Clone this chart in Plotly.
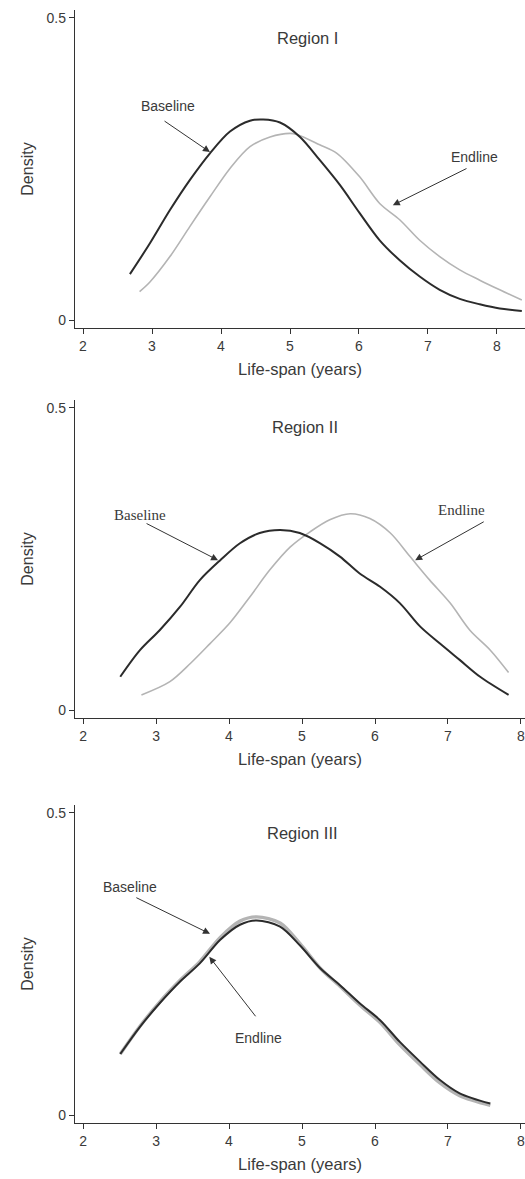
import plotly.graph_objects as go

# ---------------- data ----------------
region_titles = ["Region I", "Region II", "Region III"]
x_ticks = [2, 3, 4, 5, 6, 7, 8]

r1_base_x = [2.68, 2.97, 3.26, 3.55, 3.84, 4.13, 4.42, 4.61, 4.855, 5.145, 5.43, 5.72, 6.01, 6.30, 6.59, 6.88, 7.17, 7.46, 7.75, 8.04, 8.36]
r1_base_y = [0.076, 0.127, 0.182, 0.232, 0.276, 0.312, 0.330, 0.332, 0.327, 0.303, 0.265, 0.224, 0.177, 0.132, 0.099, 0.072, 0.050, 0.035, 0.026, 0.019, 0.015]
r1_end_x = [2.82, 2.97, 3.26, 3.55, 3.84, 4.13, 4.42, 4.71, 5.0, 5.10, 5.43, 5.68, 6.01, 6.30, 6.59, 6.88, 7.17, 7.46, 7.75, 8.04, 8.36]
r1_end_y = [0.047, 0.063, 0.105, 0.155, 0.204, 0.251, 0.287, 0.303, 0.309, 0.307, 0.290, 0.276, 0.237, 0.193, 0.166, 0.132, 0.105, 0.083, 0.066, 0.050, 0.033]

r2_base_x = [2.51, 2.78, 3.05, 3.33, 3.60, 3.88, 4.15, 4.42, 4.70, 4.97, 5.25, 5.52, 5.79, 6.07, 6.34, 6.62, 6.89, 7.16, 7.44, 7.83]
r2_base_y = [0.055, 0.099, 0.132, 0.171, 0.215, 0.248, 0.276, 0.293, 0.298, 0.293, 0.276, 0.254, 0.226, 0.204, 0.177, 0.138, 0.110, 0.083, 0.055, 0.025]
r2_end_x = [2.80, 3.19, 3.47, 3.74, 4.01, 4.29, 4.56, 4.84, 5.11, 5.38, 5.66, 5.93, 6.21, 6.48, 6.75, 7.03, 7.30, 7.58, 7.83]
r2_end_y = [0.025, 0.047, 0.077, 0.110, 0.144, 0.188, 0.232, 0.270, 0.295, 0.315, 0.325, 0.317, 0.293, 0.254, 0.215, 0.177, 0.132, 0.099, 0.062]

r3_x = [2.51, 2.78, 3.05, 3.33, 3.60, 3.88, 4.15, 4.38, 4.70, 4.97, 5.25, 5.52, 5.79, 6.07, 6.34, 6.62, 6.89, 7.16, 7.58]
r3_base_y = [0.101, 0.146, 0.185, 0.221, 0.251, 0.290, 0.315, 0.322, 0.312, 0.281, 0.243, 0.215, 0.185, 0.157, 0.121, 0.088, 0.058, 0.036, 0.019]
r3_end_y = [0.101, 0.147, 0.187, 0.223, 0.254, 0.294, 0.321, 0.328, 0.318, 0.284, 0.243, 0.213, 0.182, 0.153, 0.116, 0.083, 0.053, 0.032, 0.016]

DARK = "#2b2b2b"
LIGHT = "#b4b4b4"
TXT = "#3a3a3a"
H = 1179
SANS = "Liberation Sans, Arial"

fig = go.Figure()

panels = [
    dict(base=(r1_base_x, r1_base_y), end=(r1_end_x, r1_end_y), top=10, bottom=328, xr=[1.884, 8.406], ext=False),
    dict(base=(r2_base_x, r2_base_y), end=(r2_end_x, r2_end_y), top=400, bottom=718, xr=[1.890, 8.055], ext=False),
    dict(base=(r3_x, r3_base_y), end=(r3_x, r3_end_y), top=805, bottom=1123, xr=[1.890, 8.055], ext=True),
]

for i, p in enumerate(panels):
    n = i + 1
    xa = "x" if n == 1 else f"x{n}"
    ya = "y" if n == 1 else f"y{n}"
    ew = 3.4 if p["ext"] else 1.6
    fig.add_trace(go.Scatter(x=p["end"][0], y=p["end"][1], mode="lines",
                             line=dict(color=LIGHT, width=ew, shape="spline", smoothing=0.9),
                             xaxis=xa, yaxis=ya, showlegend=False))
    fig.add_trace(go.Scatter(x=p["base"][0], y=p["base"][1], mode="lines",
                             line=dict(color=DARK, width=2, shape="spline", smoothing=0.9),
                             xaxis=xa, yaxis=ya, showlegend=False))
    axcommon = dict(showline=True, linecolor="#333", linewidth=1.3, ticks="outside", ticklen=5, tickcolor="#333",
                    showgrid=False, zeroline=False, tickfont=dict(family=SANS, size=14, color=TXT),
                    ticklabeloverflow="allow")
    xkey = "xaxis" if n == 1 else f"xaxis{n}"
    ykey = "yaxis" if n == 1 else f"yaxis{n}"
    fig.update_layout(**{
        xkey: dict(domain=[75 / 525, 1], range=p["xr"], anchor=ya, tickvals=x_ticks, **axcommon,
                   title=dict(text="Life-span (years)", font=dict(family=SANS, size=16.5, color=TXT), standoff=10)),
        ykey: dict(domain=[1 - p["bottom"] / H, 1 - p["top"] / H], range=[-0.0132, 0.5132], anchor=xa,
                   tickvals=[0, 0.5], ticktext=["0", "0.5"], **axcommon,
                   title=dict(text="Density", font=dict(family=SANS, size=16, color=TXT), standoff=8)),
    })

sans = dict(family=SANS, size=14, color=TXT)
serif = dict(family="Liberation Serif, Times New Roman", size=15, color=TXT)
title_font = dict(family=SANS, size=16.5, color=TXT)

ann = []
ann.append(dict(x=5.26, y=0.467, xref="x", yref="y", text=region_titles[0], showarrow=False, font=title_font))
ann.append(dict(x=5.04, y=0.469, xref="x2", yref="y2", text=region_titles[1], showarrow=False, font=title_font))
ann.append(dict(x=5.01, y=0.467, xref="x3", yref="y3", text=region_titles[2], showarrow=False, font=title_font))


def label(x, y, n, text, font):
    xr = "x" if n == 1 else f"x{n}"
    yr = "y" if n == 1 else f"y{n}"
    ann.append(dict(x=x, y=y, xref=xr, yref=yr, text=text, showarrow=False, font=font))


def arrow(tx, ty, hx, hy, n):
    xr = "x" if n == 1 else f"x{n}"
    yr = "y" if n == 1 else f"y{n}"
    ann.append(dict(x=hx, y=hy, ax=tx, ay=ty, xref=xr, yref=yr, axref=xr, ayref=yr, text="",
                    showarrow=True, arrowhead=2, arrowsize=1.4, arrowwidth=1, arrowcolor="#333"))


label(3.23, 0.354, 1, "Baseline", sans)
arrow(3.16, 0.331, 3.84, 0.278, 1)
label(7.68, 0.27, 1, "Endline", sans)
arrow(7.58, 0.252, 6.49, 0.19, 1)

label(2.78, 0.323, 2, "Baseline", serif)
arrow(2.85, 0.31, 3.85, 0.248, 2)
label(7.19, 0.331, 2, "Endline", serif)
arrow(7.51, 0.313, 6.55, 0.248, 2)

label(2.64, 0.377, 3, "Baseline", sans)
arrow(2.71, 0.361, 3.74, 0.30, 3)
label(4.41, 0.127, 3, "Endline", sans)
arrow(4.38, 0.161, 3.73, 0.262, 3)

fig.update_layout(annotations=ann, width=525, height=1179, margin=dict(l=0, r=0, t=0, b=0),
                  plot_bgcolor="white", paper_bgcolor="white")

fig.write_html("out.html")
